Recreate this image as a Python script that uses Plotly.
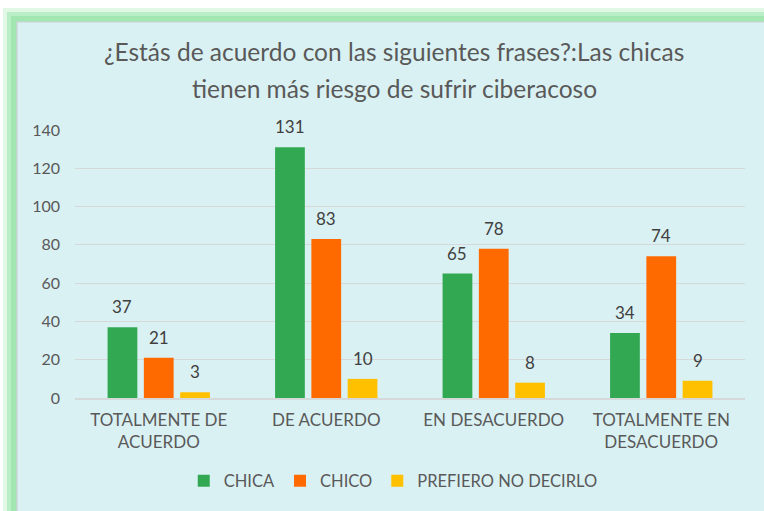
import plotly.graph_objects as go

categories = ["TOTALMENTE DE<br>ACUERDO", "DE ACUERDO", "EN DESACUERDO", "TOTALMENTE EN<br>DESACUERDO"]
chica = [37, 131, 65, 34]
chico = [21, 83, 78, 74]
prefiero = [3, 10, 8, 9]
series_names = ["CHICA", "CHICO", "PREFIERO NO DECIRLO"]
colors = ["#33A853", "#FF6A00", "#FFC000"]
y_ticks = [0, 20, 40, 60, 80, 100, 120, 140]

FONT = "Lato, 'Open Sans', sans-serif"
TXT = "#595959"

W, H = 764, 511
L, R, T, B = 75, 19, 130, 113
pw, ph = W - L - R, H - T - B
BARGAP, GROUPGAP = 0.35, 0.18

def px(x):
    return (x - L) / pw

def py(y):
    return (H - B - y) / ph

fig = go.Figure()
all_series = [chica, chico, prefiero]
for name, vals, col in zip(series_names, all_series, colors):
    fig.add_trace(go.Bar(
        name=name, x=categories, y=vals, marker=dict(color=col, line=dict(width=0)),
    ))

# value labels placed above each bar
slot = pw / len(categories) * (1 - BARGAP) / len(all_series)
annotations = []
for i, vals in enumerate(all_series):
    for cat, v in zip(categories, vals):
        annotations.append(dict(
            x=cat, y=v, xref="x", yref="y", text=str(v), showarrow=False,
            xanchor="center", yanchor="bottom", xshift=(i - 1) * slot, yshift=8,
            font=dict(family=FONT, size=17, color="#404040")))

annotations += [
    dict(text="¿Estás de acuerdo con las siguientes frases?:Las chicas", xref="paper", yref="paper",
         x=px(394), y=py(52), xanchor="center", yanchor="middle", showarrow=False,
         font=dict(family=FONT, size=24.5, color=TXT)),
    dict(text="tienen más riesgo de sufrir ciberacoso", xref="paper", yref="paper",
         x=px(394), y=py(88), xanchor="center", yanchor="middle", showarrow=False,
         font=dict(family=FONT, size=24.5, color=TXT)),
]

shapes = []
glow = [(3, 8, "rgba(170,235,185,0.35)"), (7, 12, "rgba(160,232,178,0.6)"), (11, 16, "rgba(160,230,175,0.9)")]
for gx, gy, c in glow:
    shapes.append(dict(type="rect", xref="paper", yref="paper", layer="below",
                       x0=px(gx), x1=px(W + 20), y0=py(gy), y1=py(H + 20),
                       fillcolor=c, line=dict(width=0)))
shapes.append(dict(type="rect", xref="paper", yref="paper", layer="below",
                   x0=px(17), x1=px(W + 20), y0=py(22), y1=py(H + 20),
                   fillcolor="#DAF1F3", line=dict(width=1.2, color="#CFCFD6")))

fig.update_layout(
    width=W, height=H,
    margin=dict(l=L, r=R, t=T, b=B),
    paper_bgcolor="white", plot_bgcolor="rgba(0,0,0,0)",
    barmode="group", bargap=BARGAP, bargroupgap=GROUPGAP,
    shapes=shapes,
    annotations=annotations,
    showlegend=True,
    legend=dict(orientation="h", x=0.475, xanchor="center", y=py(481), yanchor="middle",
                font=dict(family=FONT, size=16.5, color=TXT), bgcolor="rgba(0,0,0,0)",
                itemwidth=30, traceorder="normal"),
    font=dict(family=FONT, color=TXT),
)
fig.update_yaxes(range=[0, 140], tickvals=y_ticks, showgrid=True, gridcolor="#D6D9DA", gridwidth=1,
                 zeroline=False, showline=False, ticks="", ticklabelstandoff=14,
                 tickfont=dict(family=FONT, size=16, color=TXT))
fig.update_xaxes(showline=True, linecolor="#D6D9DA", linewidth=1.5, ticks="",
                 tickfont=dict(family=FONT, size=17, color=TXT), ticklabelstandoff=6)

fig.write_html("out.html", config={"displayModeBar": False},
               post_script="document.body.style.margin='0';")
